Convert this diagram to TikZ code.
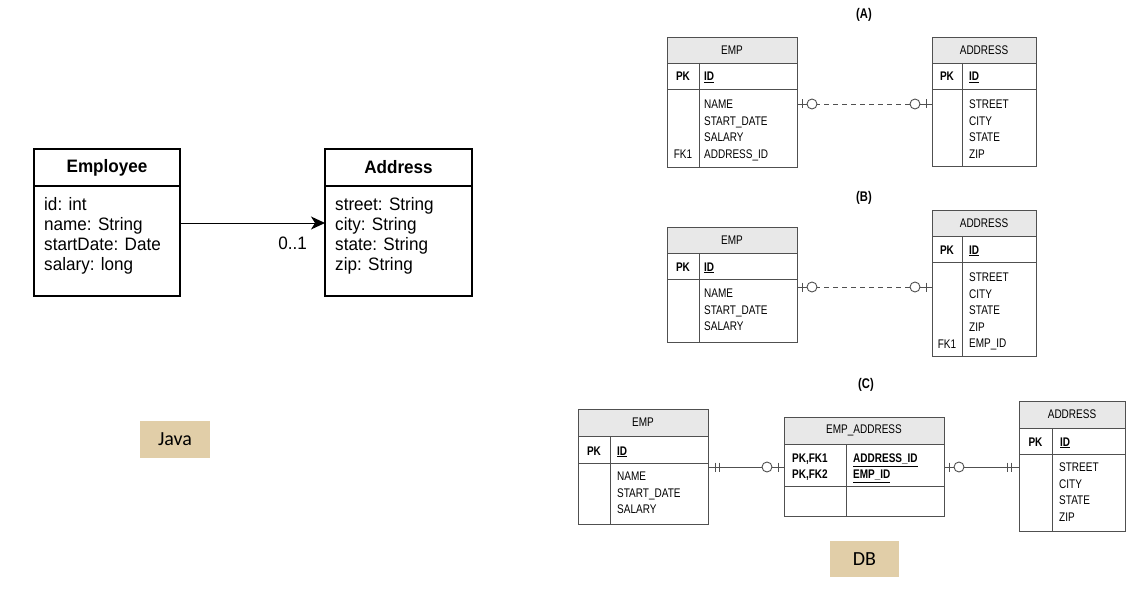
\documentclass[tikz,border=0pt]{standalone}
\usepackage{fontspec}
\usetikzlibrary{positioning,arrows.meta,decorations.markings}
\newfontfamily\umlfont[FakeStretch=0.95]{Liberation Sans}
\newfontfamily\erfont[FakeStretch=0.8]{Liberation Sans}
\newfontfamily\tagfont{Carlito}
\definecolor{tagtan}{RGB}{225,206,168}
\definecolor{erline}{RGB}{80,80,80}
\definecolor{erfill}{RGB}{232,232,232}

\begin{document}
\begin{tikzpicture}[x=1pt,y=-1pt]
\tikzstyle{umlbox}=[draw, line width=1.6pt, outer sep=0pt, inner sep=0pt, minimum width=146]
\tikzstyle{umltext}=[inner sep=0pt, align=left, font=\umlfont\fontsize{18}{20}\selectfont]
\tikzstyle{tag}=[fill=tagtan, inner sep=0pt, minimum width=70, minimum height=37, font=\tagfont\fontsize{20}{24}\selectfont]
\tikzstyle{erbox}=[draw=erline, line width=0.9pt, outer sep=0pt, inner sep=0pt]
\tikzstyle{erhead}=[erbox, fill=erfill, font=\erfont\fontsize{12.5}{14}\selectfont]
\tikzstyle{ertext}=[inner sep=0pt, align=left, font=\erfont\fontsize{12.5}{16.5}\selectfont]
\tikzstyle{erkey}=[inner sep=0pt, align=left, font=\erfont\bfseries\fontsize{12.5}{16}\selectfont]
\tikzstyle{caption}=[font=\erfont\bfseries\fontsize{14}{16}\selectfont]
\tikzstyle{rel}=[draw=erline, line width=0.9pt]
\tikzstyle{tick}=[solid, draw=erline, line width=0.9pt]
\tikzstyle{zo start}=[postaction={decorate, decoration={markings,
    mark=at position 0pt with {\draw[tick] (0,0) -- (15,0);},
    mark=at position 5pt with {\draw[tick] (0,-4.5) -- (0,4.5);},
    mark=at position 15pt with {\draw[tick, fill=white] (0,0) circle (5);}}}]
\tikzstyle{zo end}=[postaction={decorate, decoration={markings,
    mark=at position -17pt with {\draw[tick] (0,0) -- (17,0);},
    mark=at position -17pt with {\draw[tick, fill=white] (0,0) circle (5);},
    mark=at position -6pt with {\draw[tick] (0,-4.5) -- (0,4.5);}}}]
\tikzstyle{one start}=[postaction={decorate, decoration={markings,
    mark=at position 7pt with {\draw[tick] (0,-4.5) -- (0,4.5);},
    mark=at position 11pt with {\draw[tick] (0,-4.5) -- (0,4.5);}}}]
\tikzstyle{one end}=[postaction={decorate, decoration={markings,
    mark=at position -12pt with {\draw[tick] (0,-4.5) -- (0,4.5);},
    mark=at position -8pt with {\draw[tick] (0,-4.5) -- (0,4.5);}}}]
\useasboundingbox (0,0) rectangle (1143,591);

% Java side
\node[umlbox, minimum height=37, anchor=north west, font=\umlfont\bfseries\fontsize{18}{20}\selectfont] (emph) at (34,149) {Employee};
\node[umlbox, minimum height=110, below=0pt of emph] (empb) {};
\node[umltext, anchor=north west] (empatt) at ([xshift=10, yshift=-11]empb.north west) {id: int\\name: String\\startDate: Date\\salary: long};
\node[umlbox, minimum width=147, minimum height=37, anchor=north west, font=\umlfont\bfseries\fontsize{18}{20}\selectfont] (adrh) at (325,149) {Address};
\node[umlbox, minimum width=147, minimum height=110, below=0pt of adrh] (adrb) {};
\node[umltext, anchor=north west] (adratt) at ([xshift=10, yshift=-11]adrb.north west) {street: String\\city: String\\state: String\\zip: String};
\draw[-{Stealth[length=14pt, width=13pt, inset=4pt]}, line width=1pt] ([yshift=-37pt]empb.north east) -- ([yshift=-37pt]adrb.north west);
\node[umltext, anchor=base east] (mult) at (307,249) {0..1};
\node[tag] (java) at (175,439.5) {Java};

% (A)
\node[caption] (capA) at (864,15) {(A)};
\node[erhead, minimum width=130, minimum height=26, anchor=north west] (empAh) at (667,37) {EMP};
\node[erbox, minimum width=130, minimum height=26, below=0pt of empAh] (empAk) {};
\node[erbox, minimum width=130, minimum height=78, below=0pt of empAk] (empAb) {};
\draw[rel] ([xshift=32]empAk.north west) -- ([xshift=32]empAb.south west);
\node[erkey, anchor=base] (empApk) at ([xshift=16, yshift=-5]empAk.west) {PK};
\node[erkey, anchor=base west] (empAid) at ([xshift=37, yshift=-5]empAk.west) {\underline{ID}};
\node[ertext, anchor=north west] (empAatt) at ([xshift=37, yshift=-11]empAb.north west) {NAME\\START\_DATE\\SALARY\\ADDRESS\_ID};
\node[ertext, anchor=base] (empAfk) at ([xshift=16, yshift=-69.5]empAb.north west) {FK1};

\node[erhead, minimum width=104, minimum height=26, anchor=north west] (adrAh) at (932,37) {ADDRESS};
\node[erbox, minimum width=104, minimum height=26, below=0pt of adrAh] (adrAk) {};
\node[erbox, minimum width=104, minimum height=77, below=0pt of adrAk] (adrAb) {};
\draw[rel] ([xshift=30]adrAk.north west) -- ([xshift=30]adrAb.south west);
\node[erkey, anchor=base] (adrApk) at ([xshift=15, yshift=-5]adrAk.west) {PK};
\node[erkey, anchor=base west] (adrAid) at ([xshift=37, yshift=-5]adrAk.west) {\underline{ID}};
\node[ertext, anchor=north west] (adrAatt) at ([xshift=37, yshift=-11]adrAb.north west) {STREET\\CITY\\STATE\\ZIP};

\draw[rel, dash pattern=on 5pt off 4pt, zo start, zo end] ([yshift=-15pt]empAb.north east) -- ([yshift=-15pt]adrAb.north west);

% (B)
\node[caption] (capB) at (864,198) {(B)};
\node[erhead, minimum width=130, minimum height=26, anchor=north west] (empBh) at (667,227) {EMP};
\node[erbox, minimum width=130, minimum height=26, below=0pt of empBh] (empBk) {};
\node[erbox, minimum width=130, minimum height=63, below=0pt of empBk] (empBb) {};
\draw[rel] ([xshift=32]empBk.north west) -- ([xshift=32]empBb.south west);
\node[erkey, anchor=base] (empBpk) at ([xshift=16, yshift=-5]empBk.west) {PK};
\node[erkey, anchor=base west] (empBid) at ([xshift=37, yshift=-5]empBk.west) {\underline{ID}};
\node[ertext, anchor=north west] (empBatt) at ([xshift=37, yshift=-10]empBb.north west) {NAME\\START\_DATE\\SALARY};

\node[erhead, minimum width=104, minimum height=26, anchor=north west] (adrBh) at (932,210) {ADDRESS};
\node[erbox, minimum width=104, minimum height=26, below=0pt of adrBh] (adrBk) {};
\node[erbox, minimum width=104, minimum height=94, below=0pt of adrBk] (adrBb) {};
\draw[rel] ([xshift=30]adrBk.north west) -- ([xshift=30]adrBb.south west);
\node[erkey, anchor=base] (adrBpk) at ([xshift=15, yshift=-5]adrBk.west) {PK};
\node[erkey, anchor=base west] (adrBid) at ([xshift=37, yshift=-5]adrBk.west) {\underline{ID}};
\node[ertext, anchor=north west] (adrBatt) at ([xshift=37, yshift=-11]adrBb.north west) {STREET\\CITY\\STATE\\ZIP\\EMP\_ID};
\node[ertext, anchor=base] (adrBfk) at ([xshift=15, yshift=-86]adrBb.north west) {FK1};

\draw[rel, dash pattern=on 5pt off 4pt, zo start, zo end] ([yshift=-8pt]empBb.north east) -- ([yshift=-25pt]adrBb.north west);

% (C)
\node[caption] (capC) at (866,385) {(C)};
\node[erhead, minimum width=130, minimum height=27, anchor=north west] (empCh) at (578,409) {EMP};
\node[erbox, minimum width=130, minimum height=27, below=0pt of empCh] (empCk) {};
\node[erbox, minimum width=130, minimum height=61, below=0pt of empCk] (empCb) {};
\draw[rel] ([xshift=32]empCk.north west) -- ([xshift=32]empCb.south west);
\node[erkey, anchor=base] (empCpk) at ([xshift=16, yshift=-5.5]empCk.west) {PK};
\node[erkey, anchor=base west] (empCid) at ([xshift=39, yshift=-5.5]empCk.west) {\underline{ID}};
\node[ertext, anchor=north west] (empCatt) at ([xshift=39, yshift=-9]empCb.north west) {NAME\\START\_DATE\\SALARY};

\node[erhead, minimum width=160, minimum height=27, anchor=north west] (eaCh) at (784,417) {EMP\_ADDRESS};
\node[erbox, minimum width=160, minimum height=42, below=0pt of eaCh] (eaCk) {};
\node[erbox, minimum width=160, minimum height=30, below=0pt of eaCk] (eaCb) {};
\draw[rel] ([xshift=62]eaCk.north west) -- ([xshift=62]eaCb.south west);
\node[erkey, anchor=north west] (eaCpk) at ([xshift=8, yshift=-10]eaCk.north west) {PK,FK1\\PK,FK2};
\node[erkey, anchor=north west] (eaCid) at ([xshift=69, yshift=-10]eaCk.north west) {\underline{ADDRESS\_ID}\\\underline{EMP\_ID}};

\node[erhead, minimum width=106, minimum height=27, anchor=north west] (adrCh) at (1019,401) {ADDRESS};
\node[erbox, minimum width=106, minimum height=26, below=0pt of adrCh] (adrCk) {};
\node[erbox, minimum width=106, minimum height=77, below=0pt of adrCk] (adrCb) {};
\draw[rel] ([xshift=33]adrCk.north west) -- ([xshift=33]adrCb.south west);
\node[erkey, anchor=base] (adrCpk) at ([xshift=16.5, yshift=-5]adrCk.west) {PK};
\node[erkey, anchor=base west] (adrCid) at ([xshift=41, yshift=-5]adrCk.west) {\underline{ID}};
\node[ertext, anchor=north west] (adrCatt) at ([xshift=40, yshift=-9]adrCb.north west) {STREET\\CITY\\STATE\\ZIP};

\draw[rel, one start, zo end] ([yshift=-4pt]empCb.north east) -- ([yshift=-23pt]eaCk.north west);
\draw[rel, zo start, one end] ([yshift=-23pt]eaCk.north east) -- ([yshift=-13pt]adrCb.north west);
\node[tag, minimum width=69, minimum height=36] (db) at (864.5,559) {DB};
\end{tikzpicture}
\end{document}
